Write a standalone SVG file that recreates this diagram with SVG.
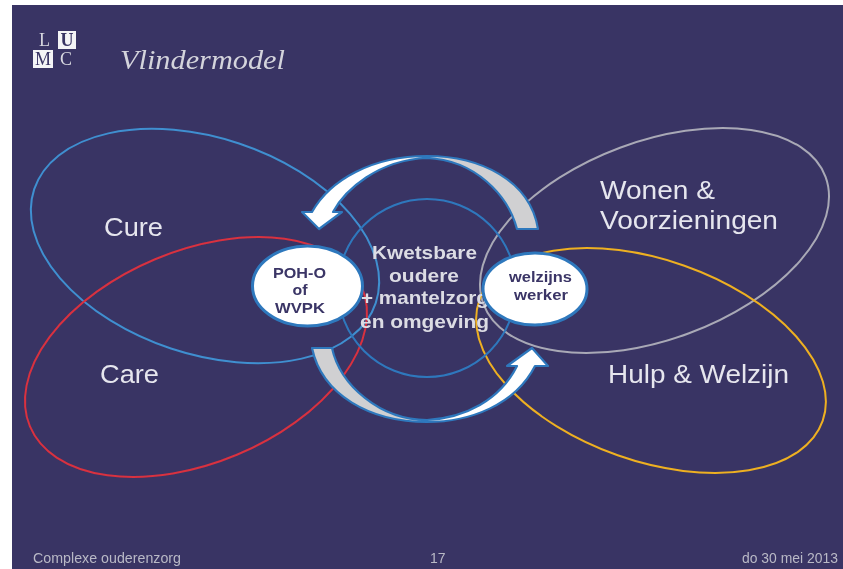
<svg xmlns="http://www.w3.org/2000/svg" width="843" height="569" viewBox="0 0 843 569">
<style>
.lobe{fill:none;stroke-width:2}
.sans{font-family:"Liberation Sans",Arial,sans-serif}
.lbl{font-size:25px;fill:#e6e6ee}
.mid{font-size:19px;font-weight:bold;fill:#dcdce4;text-anchor:middle}
.nd{fill:#fff;stroke:#2f78bd;stroke-width:3}
.ndt{font-size:15px;font-weight:bold;fill:#3a3566;text-anchor:middle}
.foot{font-size:14px;fill:#b9b9c6}
.logo{font-family:"Liberation Serif",serif;font-size:18px}
.arw{stroke:#2f78bd;stroke-width:2.200;stroke-linejoin:round}
</style>
<defs>
<linearGradient id="topfill" gradientUnits="userSpaceOnUse" x1="395" y1="0" x2="450" y2="0"><stop offset="0" stop-color="#fff"/><stop offset="1" stop-color="#d0d0d2"/></linearGradient>
<linearGradient id="botfill" gradientUnits="userSpaceOnUse" x1="395" y1="0" x2="455" y2="0"><stop offset="0" stop-color="#d0d0d2"/><stop offset="1" stop-color="#fff"/></linearGradient>
<filter id="soft" x="0" y="0" width="100%" height="100%"><feGaussianBlur stdDeviation=".45"/></filter>
</defs>
<rect width="843" height="569" fill="#fff"/>
<rect x="12" y="5" width="831" height="564" fill="#393464"/>
<g filter="url(#soft)">
<g id="logo">
<rect x="58" y="31" width="18" height="18" fill="#f4f4f6"/>
<rect x="33" y="50" width="20" height="18" fill="#f4f4f6"/>
<text class="logo" x="39" y="46" fill="#d8d8e0">L</text>
<text class="logo" x="67" y="46" fill="#393464" font-weight="bold" text-anchor="middle">U</text>
<text class="logo" x="43" y="65" fill="#393464" text-anchor="middle">M</text>
<text class="logo" x="60" y="65" fill="#d8d8e0">C</text>
</g>
<text x="120" y="69" font-family="'Liberation Serif',serif" font-style="italic" font-size="28" fill="#d4d4dc" textLength="165" lengthAdjust="spacingAndGlyphs">Vlindermodel</text>
<g id="cure"><ellipse class="lobe" cx="205" cy="246" rx="180" ry="108" transform="rotate(18.400 205 246)" stroke="#3f8fd0"/><text class="sans lbl" x="104" y="236" textLength="59" lengthAdjust="spacingAndGlyphs">Cure</text></g>
<g id="care"><ellipse class="lobe" cx="196" cy="357" rx="180" ry="106" transform="rotate(-22.700 196 357)" stroke="#d8303f"/><text class="sans lbl" x="100" y="383" textLength="59" lengthAdjust="spacingAndGlyphs">Care</text></g>
<g id="wonen"><ellipse class="lobe" cx="654.500" cy="240.500" rx="182.500" ry="99" transform="rotate(-20.400 654.500 240.500)" stroke="#a9a9b6"/><text class="sans lbl" x="600" y="199" textLength="115" lengthAdjust="spacingAndGlyphs">Wonen &amp;</text><text class="sans lbl" x="600" y="229" textLength="178" lengthAdjust="spacingAndGlyphs">Voorzieningen</text></g>
<g id="hulp"><ellipse class="lobe" cx="651" cy="360.500" rx="182" ry="100.500" transform="rotate(19.400 651 360.500)" stroke="#eeb020"/><text class="sans lbl" x="608" y="383" textLength="181" lengthAdjust="spacingAndGlyphs">Hulp &amp; Welzijn</text></g>
<g id="center"><circle cx="427" cy="288" r="89" fill="none" stroke="#2f78bd" stroke-width="2"/>
<text class="sans mid" x="424.500" y="259" textLength="105" lengthAdjust="spacingAndGlyphs">Kwetsbare</text>
<text class="sans mid" x="424" y="282" textLength="70" lengthAdjust="spacingAndGlyphs">oudere</text>
<text class="sans mid" x="425" y="304" textLength="128" lengthAdjust="spacingAndGlyphs">+ mantelzorg</text>
<text class="sans mid" x="424.500" y="328" textLength="129" lengthAdjust="spacingAndGlyphs">en omgeving</text></g>
<g id="connectors">
<path class="arw" fill="url(#topfill)" d="M319 229 L302 212 L312 212 C330 180 372 156 427 156 C480 156 530 180 538 229 L517 229 C508 195 475 160 427 158 C378 160 345 190 333 212 L342 212 Z"/>
<path class="arw" fill="url(#botfill)" d="M312 348 L332 348 C340 385 380 420 427 420 C465 418 500 400 517 366 L507 366 L532 348 L548 366 L535 366 C515 405 470 422 427 422 C370 422 322 395 312 348 Z"/>
</g>
<g id="poh"><ellipse class="nd" cx="307.500" cy="286" rx="55" ry="40"/>
<text class="sans ndt" x="299.500" y="278" textLength="53" lengthAdjust="spacingAndGlyphs">POH-O</text><text class="sans ndt" x="300" y="295" textLength="15" lengthAdjust="spacingAndGlyphs">of</text><text class="sans ndt" x="300" y="313" textLength="50" lengthAdjust="spacingAndGlyphs">WVPK</text></g>
<g id="welzijn"><ellipse class="nd" cx="535" cy="289" rx="52" ry="36"/>
<text class="sans ndt" x="540.500" y="282" font-size="14" textLength="63" lengthAdjust="spacingAndGlyphs">welzijns</text><text class="sans ndt" x="541" y="300" font-size="14" textLength="54" lengthAdjust="spacingAndGlyphs">werker</text></g>
<g id="footer">
<text class="sans foot" x="33" y="563" textLength="148" lengthAdjust="spacingAndGlyphs">Complexe ouderenzorg</text>
<text class="sans foot" x="430" y="563">17</text>
<text class="sans foot" x="838" y="563" text-anchor="end" textLength="96" lengthAdjust="spacingAndGlyphs">do 30 mei 2013</text>
</g>
</g>
</svg>
